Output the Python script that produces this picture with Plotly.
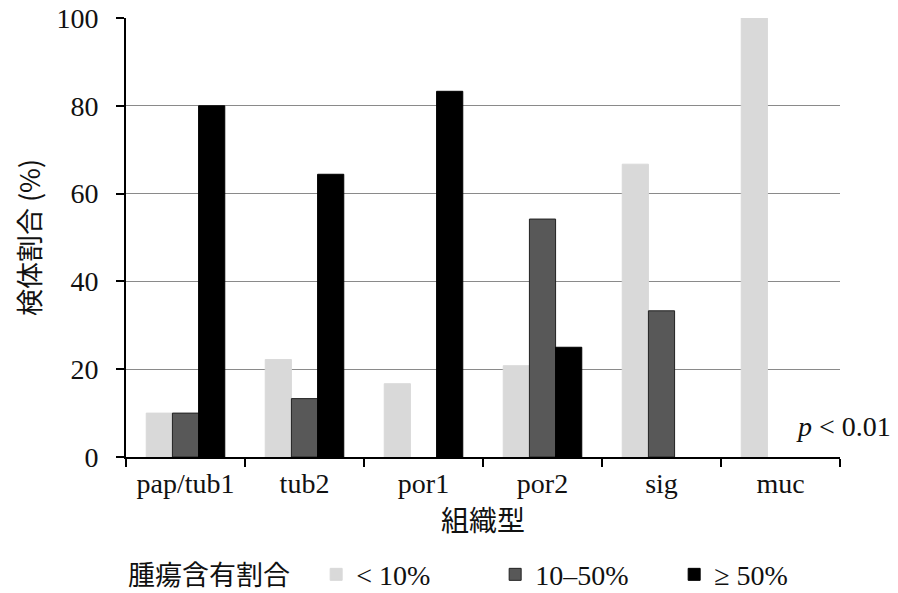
import plotly.graph_objects as go

categories = ["pap/tub1", "tub2", "por1", "por2", "sig", "muc"]
series_names = ["< 10%", "10–50%", "≥ 50%"]
low_vals = [10.0, 22.2, 16.7, 20.8, 66.7, 100.0]
mid_vals = [10.0, 13.3, 0.0, 54.2, 33.3, 0.0]
high_vals = [80.0, 64.4, 83.3, 25.0, 0.0, 0.0]
y_ticks = [0, 20, 40, 60, 80, 100]

colors = ["#d9d9d9", "#585858", "#000000"]
line_colors = ["#d9d9d9", "#222222", "#000000"]

serif = "Liberation Serif, Times New Roman, serif"
cjk = "Noto Sans CJK JP, sans-serif"

fig = go.Figure()
for name, vals, c, lc in zip(series_names, [low_vals, mid_vals, high_vals], colors, line_colors):
    fig.add_trace(go.Bar(
        x=categories, y=vals, name=name,
        marker=dict(color=c, line=dict(color=lc, width=[1 if v > 0 else 0 for v in vals])),
    ))

fig.update_layout(
    width=898, height=593,
    margin=dict(l=126, r=58, t=18, b=136, autoexpand=False),
    paper_bgcolor="white", plot_bgcolor="white",
    barmode="group", bargap=0.34, bargroupgap=0,
    font=dict(family=serif, size=28, color="#111"),
    showlegend=True,
    legend=dict(
        orientation="h", x=0.0, xanchor="left", y=-0.268, yanchor="middle",
        title=dict(text="腫瘍含有割合   ", font=dict(family=cjk, size=27, color="#111")),
        font=dict(family=serif, size=28, color="#111"),
        traceorder="normal", entrywidth=134, entrywidthmode="pixels",
    ),
    annotations=[
        dict(text="<i>p</i> < 0.01", x=1.074, y=0.07, xref="paper", yref="paper",
             xanchor="right", yanchor="middle", showarrow=False,
             font=dict(family=serif, size=28, color="#111")),
    ],
)

fig.update_xaxes(
    type="category", showline=True, linecolor="black", linewidth=2, automargin=False,
    ticks="outside", tickson="boundaries", ticklen=8, tickwidth=2, tickcolor="black",
    tickfont=dict(family=serif, size=28),
    title=dict(text="組織型", font=dict(family=cjk, size=28), standoff=6),
    showgrid=False,
)
fig.update_yaxes(
    range=[0, 100], tickvals=y_ticks, showline=True, linecolor="black", linewidth=2,
    automargin=False,
    ticks="outside", ticklen=8, tickwidth=2, tickcolor="black", ticklabelstandoff=12,
    tickfont=dict(family=serif, size=28),
    showgrid=True, gridcolor="#8a8a8a", gridwidth=1,
    title=dict(text="検体割合 (%)", font=dict(family=cjk, size=27), standoff=8),
    zeroline=False,
)

fig.write_html("out.html", config={"displayModeBar": False},
               post_script="document.body.style.margin='0';")
